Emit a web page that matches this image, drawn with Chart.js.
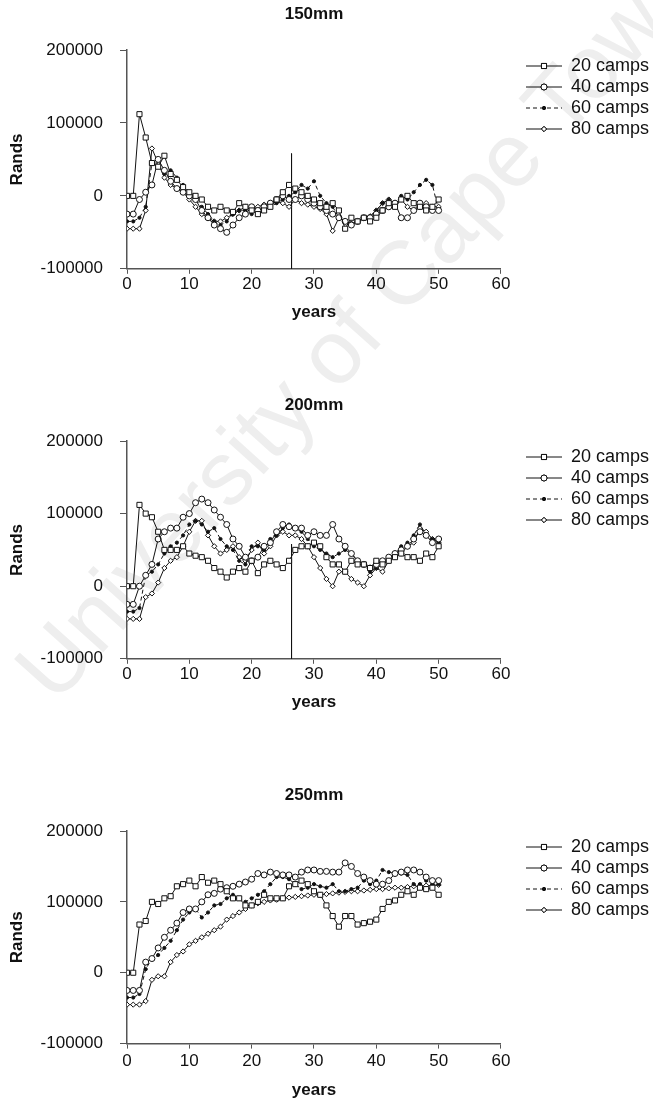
<!DOCTYPE html>
<html>
<head>
<meta charset="utf-8">
<script src="https://cdn.jsdelivr.net/npm/chart.js@4.4.1/dist/chart.umd.min.js"></script>
<style>
  body { margin: 0; background: #fff; width: 653px; height: 1102px; position: relative; overflow: hidden; }
  .box { position: absolute; left: 0; width: 653px; }
  .wm {
    position: absolute; left: 357px; top: 325px; white-space: nowrap;
    font-family: "Liberation Sans", Arial, sans-serif; font-size: 90px; color: #eeeeee;
    transform: translate(-50%, -50%) rotate(-48deg);
  }
</style>
</head>
<body>
<div class="wm">University of Cape Town</div>
<div class="box" style="top:0;height:323px"><canvas id="c150"></canvas></div>
<div class="box" style="top:391px;height:322px"><canvas id="c200"></canvas></div>
<div class="box" style="top:781px;height:320px"><canvas id="c250"></canvas></div>
<script>
// ===== DATA =====
const years = [0,1,2,3,4,5,6,7,8,9,10,11,12,13,14,15,16,17,18,19,20,21,22,23,24,25,
  26,27,28,29,30,31,32,33,34,35,36,37,38,39,40,41,42,43,44,45,46,47,48,49,50];
const seriesNames = ["20 camps", "40 camps", "60 camps", "80 camps"];
const chartTitles = ["150mm", "200mm", "250mm"];
const yTickValues = [-100000, 0, 100000, 200000];
const xTickValues = [0, 10, 20, 30, 40, 50, 60];

// vertical marker line (150mm and 200mm panels)
const markerYear = 26.4;
const markerTop = 58000;

// 150mm
const r150_20 = [0,0,112000,80000,45000,40000,55000,30000,22000,12000,5000,0,-5000,-15000,-20000,-15000,
  -20000,-22000,-10000,-15000,-20000,-25000,-20000,-15000,-5000,5000,15000,10000,5000,0,-5000,-10000,
  -15000,-10000,-20000,-45000,-30000,-35000,-30000,-35000,-30000,-20000,-10000,-15000,-5000,0,-10000,
  -15000,-20000,-15000,-5000];
const r150_40 = [-25000,-25000,-5000,5000,15000,50000,35000,20000,10000,5000,0,-5000,-20000,-30000,-40000,
  -45000,-50000,-40000,-30000,-25000,-15000,-20000,-15000,-10000,-5000,0,-5000,-5000,0,-5000,-10000,
  -15000,-20000,-25000,-30000,-35000,-40000,-35000,-30000,-30000,-25000,-20000,-15000,-10000,-30000,
  -30000,-20000,-10000,-15000,-20000,-20000];
const r150_60 = [-35000,-35000,-30000,-15000,45000,40000,30000,35000,25000,15000,5000,-5000,-15000,-25000,
  -35000,-40000,-35000,-25000,-20000,-20000,-25000,-20000,-15000,-15000,-10000,-5000,0,5000,15000,10000,
  20000,0,-10000,-15000,-30000,-35000,-38000,-35000,-30000,-28000,-20000,-10000,-5000,-10000,0,-5000,
  5000,15000,22000,15000,-20000];
const r150_80 = [-45000,-45000,-45000,-20000,65000,45000,25000,15000,10000,5000,-5000,-15000,-25000,-30000,
  -35000,-35000,-30000,-25000,-20000,-15000,-20000,-15000,-12000,-10000,-8000,-10000,-15000,-5000,-10000,
  -12000,-15000,-18000,-25000,-48000,-30000,-35000,-38000,-35000,-30000,-28000,-20000,-10000,-5000,
  -10000,-5000,-15000,-20000,-15000,-10000,-15000,-15000];

// 200mm
const r200_20 = [0,0,112000,100000,95000,75000,50000,50000,50000,55000,45000,42000,40000,35000,25000,20000,
  12000,20000,25000,20000,35000,18000,30000,35000,30000,25000,35000,50000,55000,55000,60000,55000,40000,
  30000,30000,20000,35000,30000,30000,25000,35000,30000,35000,40000,45000,40000,40000,35000,45000,40000,
  55000];
const r200_40 = [-25000,-25000,0,15000,30000,65000,75000,80000,80000,95000,100000,115000,120000,115000,
  105000,95000,85000,65000,55000,40000,35000,40000,55000,60000,75000,85000,82000,80000,80000,70000,75000,
  70000,70000,85000,65000,55000,45000,35000,30000,25000,30000,35000,40000,45000,50000,55000,65000,75000,
  70000,60000,65000];
const r200_60 = [-35000,-35000,-30000,15000,20000,30000,45000,55000,60000,70000,85000,90000,85000,75000,
  80000,65000,55000,50000,35000,30000,55000,55000,50000,65000,70000,80000,85000,80000,75000,65000,55000,
  50000,45000,40000,45000,50000,45000,35000,30000,20000,25000,30000,40000,45000,55000,60000,70000,85000,
  70000,65000,60000];
const r200_80 = [-45000,-45000,-45000,-15000,-10000,5000,25000,35000,40000,55000,75000,90000,90000,70000,
  55000,45000,50000,55000,40000,35000,50000,60000,45000,55000,70000,75000,70000,70000,65000,55000,40000,
  25000,10000,0,20000,20000,10000,5000,0,15000,25000,20000,35000,40000,45000,55000,60000,80000,75000,
  65000,60000];

// 250mm
const r250_20 = [0,0,68000,73000,100000,97000,105000,108000,122000,125000,130000,122000,135000,127000,
  130000,125000,115000,105000,105000,95000,95000,100000,110000,105000,105000,105000,122000,125000,130000,
  125000,115000,110000,95000,80000,65000,80000,80000,68000,70000,72000,75000,90000,100000,102000,110000,
  115000,110000,120000,118000,120000,110000];
const r250_40 = [-25000,-25000,-25000,15000,20000,35000,50000,60000,70000,85000,90000,90000,100000,110000,
  112000,118000,120000,122000,125000,128000,132000,140000,138000,142000,140000,138000,138000,135000,
  142000,145000,145000,143000,143000,142000,142000,155000,150000,140000,135000,130000,125000,125000,
  130000,140000,142000,145000,145000,142000,135000,130000,130000];
const r250_60 = [-35000,-35000,-30000,5000,20000,25000,35000,45000,60000,75000,85000,90000,78000,85000,
  95000,97000,105000,110000,105000,100000,105000,110000,115000,125000,135000,135000,132000,125000,118000,
  120000,125000,122000,120000,125000,115000,115000,118000,120000,130000,125000,130000,145000,142000,
  140000,140000,138000,125000,125000,130000,125000,125000];
const r250_80 = [-45000,-45000,-45000,-40000,-10000,-5000,-5000,15000,25000,30000,40000,45000,50000,55000,
  60000,65000,75000,80000,85000,90000,95000,98000,100000,102000,103000,105000,106000,107000,108000,109000,
  110000,110000,111000,112000,113000,114000,115000,115000,116000,117000,118000,118000,119000,120000,
  120000,121000,122000,122000,123000,123000,124000];

// ===== STYLES =====
const FONT = "'Liberation Sans', Arial, sans-serif";
const INK = "#111";
const seriesStyles = [
  { pointStyle: "rect", pointRadius: 3.6, fill: "#fff", dash: [] },
  { pointStyle: "circle", pointRadius: 3, fill: "#fff", dash: [] },
  { pointStyle: "circle", pointRadius: 1.6, fill: INK, dash: [4, 3] },
  { pointStyle: "rectRot", pointRadius: 2.6, fill: "#fff", dash: [] },
];

// legend symbol: transparent gap on the left, then a short line with the marker
const ICON_W = 58, LINE_W = 36;
function legendIcon(st) {
  const c = document.createElement("canvas");
  c.width = ICON_W; c.height = 12;
  const g = c.getContext("2d");
  const x0 = ICON_W - LINE_W;
  g.strokeStyle = INK; g.lineWidth = 1;
  g.setLineDash(st.dash);
  g.beginPath(); g.moveTo(x0, 6); g.lineTo(ICON_W, 6); g.stroke();
  g.setLineDash([]);
  Chart.helpers.drawPoint(g, { pointStyle: st.pointStyle, radius: st.pointRadius, borderWidth: 1, rotation: 0 }, x0 + LINE_W / 2, 6);
  g.fillStyle = st.fill; g.fill(); g.stroke();
  return c;
}
const legendIcons = seriesStyles.map(legendIcon);

function makeChart(id, title, rows, withMarker, xTickPad, xTitlePad) {
  const datasets = rows.map((vals, i) => {
    const st = seriesStyles[i];
    return {
      label: seriesNames[i],
      data: years.map((x, k) => ({ x: x, y: vals[k] })),
      borderColor: INK,
      borderWidth: 1,
      borderDash: st.dash,
      pointStyle: st.pointStyle,
      pointRadius: st.pointRadius,
      pointBackgroundColor: st.fill,
      pointBorderColor: INK,
      pointBorderWidth: 1,
      tension: 0,
    };
  });
  if (withMarker) {
    datasets.push({
      label: "marker",
      data: [{ x: markerYear, y: markerTop }, { x: markerYear, y: yTickValues[0] }],
      borderColor: INK,
      borderWidth: 1,
      pointRadius: 0,
    });
  }

  return new Chart(document.getElementById(id), {
    type: "line",
    data: { datasets },
    options: {
      responsive: true,
      maintainAspectRatio: false,
      animation: false,
      layout: { padding: { top: 0, right: -6, bottom: 0, left: 7 } },
      scales: {
        x: {
          type: "linear",
          min: 0,
          max: 60,
          afterBuildTicks: (ax) => { ax.ticks = xTickValues.map((v) => ({ value: v })); },
          ticks: { color: INK, padding: xTickPad, font: { family: FONT, size: 17 } },
          grid: { drawOnChartArea: false, color: "#555", tickLength: 5 },
          border: { color: "#555", width: 1.5 },
          title: { display: true, text: "years", color: INK, padding: { top: xTitlePad, bottom: 0 },
            font: { family: FONT, size: 17, weight: "bold" } },
        },
        y: {
          min: -100000,
          max: 200000,
          afterBuildTicks: (ax) => { ax.ticks = yTickValues.map((v) => ({ value: v })); },
          afterFit: (ax) => { ax.width = 120; },
          ticks: { color: INK, padding: 17, font: { family: FONT, size: 17 }, callback: (v) => String(v) },
          grid: { drawOnChartArea: false, color: "#555", tickLength: 7 },
          border: { color: "#555", width: 1.5 },
          title: { display: true, text: "Rands", color: INK, padding: { top: 0, bottom: 0 },
            font: { family: FONT, size: 17, weight: "bold" } },
        },
      },
      plugins: {
        title: {
          display: true,
          text: title,
          fullSize: false,
          color: INK,
          padding: { top: 4, bottom: 25.6 },
          font: { family: FONT, size: 17, weight: "bold" },
        },
        legend: {
          position: "right",
          align: "start",
          title: { display: true, text: " ", padding: { top: 42, bottom: 0 }, font: { size: 10 } },
          labels: {
            color: INK,
            usePointStyle: true,
            pointStyleWidth: ICON_W,
            padding: 3,
            font: { family: FONT, size: 18 },
            filter: (item) => item.text !== "marker",
            generateLabels: (chart) =>
              chart.data.datasets.map((ds, i) => ({
                text: ds.label,
                pointStyle: legendIcons[i],
                fillStyle: "#fff",
                strokeStyle: INK,
                lineWidth: 0,
                fontColor: INK,
                datasetIndex: i,
                hidden: false,
              })),
          },
        },
        tooltip: { enabled: false },
      },
    },
  });
}

makeChart("c150", chartTitles[0], [r150_20, r150_40, r150_60, r150_80], true, 0, 8.4);
makeChart("c200", chartTitles[1], [r200_20, r200_40, r200_60, r200_80], true, 0, 8.4);
makeChart("c250", chartTitles[2], [r250_20, r250_40, r250_60, r250_80], false, 2.8, 6);
</script>
</body>
</html>
